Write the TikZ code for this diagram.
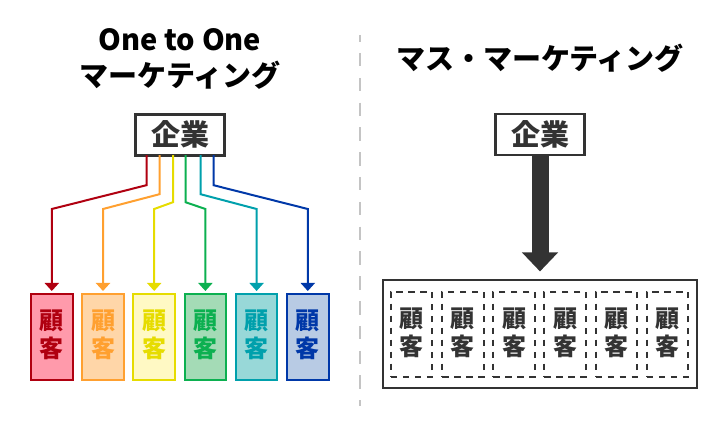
\documentclass[tikz,border=0pt]{standalone}
\usepackage{fontspec}
\setmainfont{Noto Sans CJK JP}
\usetikzlibrary{arrows.meta}
\definecolor{ink}{HTML}{333333}
\definecolor{rule}{HTML}{C4C4C4}
\definecolor{lineA}{HTML}{B00010}
\definecolor{lineB}{HTML}{FFA030}
\definecolor{lineC}{HTML}{E6DC00}
\definecolor{lineD}{HTML}{0CB050}
\definecolor{lineE}{HTML}{00A0AC}
\definecolor{lineF}{HTML}{0038A8}
\definecolor{fillA}{HTML}{FF9AAB}
\definecolor{fillB}{HTML}{FFD6A8}
\definecolor{fillC}{HTML}{FFF9C4}
\definecolor{fillD}{HTML}{A4DBB6}
\definecolor{fillE}{HTML}{98D8D8}
\definecolor{fillF}{HTML}{B8CBE4}
\newcommand{\corpname}{\raisebox{-11.3pt}[0pt][0pt]{企業}}
\newcommand{\custname}[1]{\raisebox{#1}[0pt][0pt]{顧}\\\raisebox{#1}[0pt][0pt]{客}}
\tikzset{
    title/.style={font=\fontsize{29}{36}\selectfont\bfseries, text=black, align=center, inner sep=0pt},
    corp/.style={draw=ink, line width=3pt, fill=white, text=ink, minimum width=89pt, minimum height=41pt,
        inner sep=0pt, outer sep=0pt, font=\fontsize{29}{29}\selectfont\bfseries},
    client/.style={line width=2pt, minimum width=41.5pt, minimum height=85pt, inner sep=0pt, outer sep=0pt,
        align=center, font=\fontsize{24}{28}\selectfont\bfseries},
    conn/.style={line width=2pt, line join=miter, -{Triangle[width=14pt,length=8pt]}, shorten >=3.5pt},
}
\begin{document}
\begin{tikzpicture}[x=1pt, y=-1pt]
    \useasboundingbox (0,0) rectangle (720,430);
    % divider
    \coordinate (top) at (360,35);
    \coordinate (bottom) at (360,406);
    \draw[rule, line width=2.7pt, dash pattern=on 13.5pt off 11.3pt, dash phase=6.8pt] (top) -- (bottom);
    % left side
    \node[title] (titleL) at (180,58.5) {One to One\\マーケティング};
    \node[corp] (corpL) at (180,134.7) {\corpname};
    \foreach \i/\cx/\col/\sx/\drop in {1/51.8/A/-33.5/30, 2/103/B/-20.5/39, 3/154.2/C/-7/47,
        4/205.4/D/5.5/47, 5/256.6/E/20.5/39, 6/307.8/F/33.5/30}
    {
        \node[client, draw=line\col, fill=fill\col, text=line\col] (cust\i) at (\cx,337) {\custname{-6pt}};
        \draw[conn, draw=line\col] ([xshift=\sx pt]corpL.south) -- ++(0,\drop)
            -- (cust\i.north |- 0,209) -- (cust\i.north);
    }
    % right side
    \node[title] (titleR) at (540,58.5) {マス・マーケティング};
    \node[corp, line width=2.5pt] (corpR) at (540,134.7) {\corpname};
    \node[draw=ink, line width=2pt, minimum width=314pt, minimum height=108.5pt, inner sep=0pt, outer sep=0pt] (mass) at (540,334.2) {};
    \foreach \i/\cx in {1/411.6, 2/462.8, 3/514, 4/565.2, 5/616.4, 6/667.6}
    {
        \node[client, draw=ink, text=ink, line width=2pt, dash pattern=on 6.5pt off 5.5pt] (mcust\i) at (\cx,334.2) {\custname{-7pt}};
    }
    \draw[ink, line width=17pt, -{Triangle[width=35pt,length=19pt]}, shorten >=8.5pt] (corpR.south) -- (mass.north);
\end{tikzpicture}
\end{document}
